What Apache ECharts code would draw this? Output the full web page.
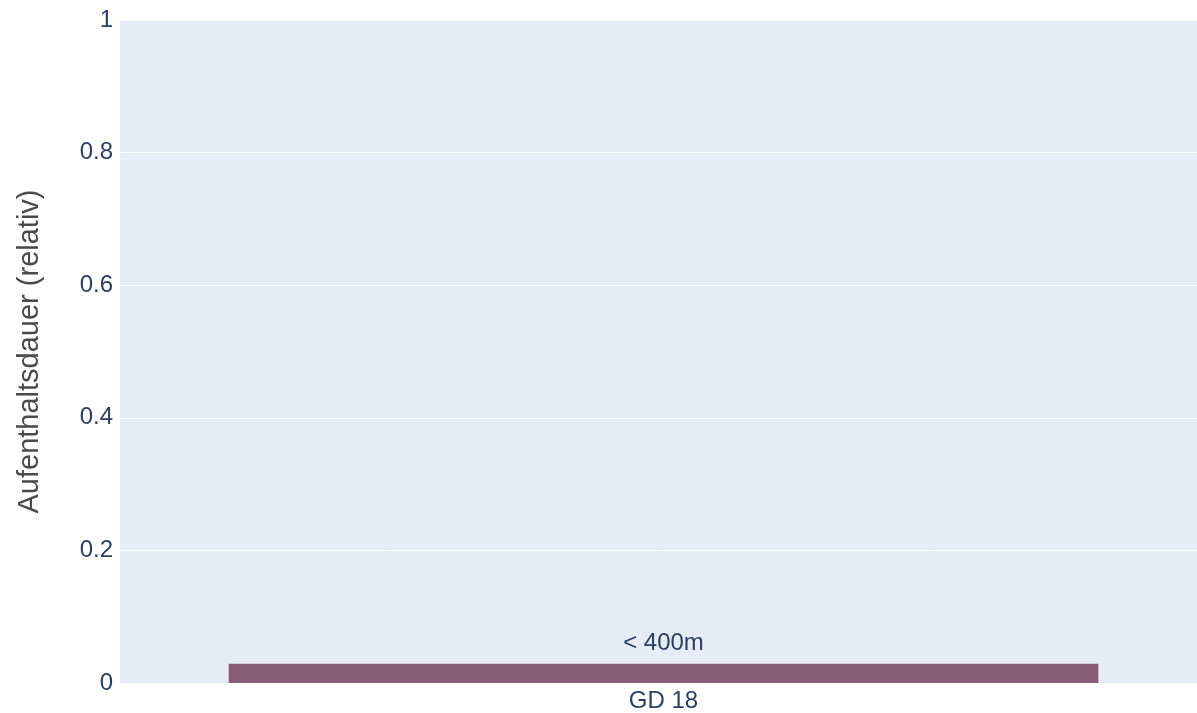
<!DOCTYPE html>
<html>
<head>
<meta charset="utf-8">
<script src="https://cdn.jsdelivr.net/npm/echarts@6/dist/echarts.min.js"></script>
<style>
html,body{margin:0;padding:0;background:#fff;overflow:hidden;width:1197px;height:713px;}
#chart{width:1207px;height:713px;}
</style>
</head>
<body>
<div id="chart"></div>
<script>
const categories = ['GD 18'];
const barLabels = ['< 400m'];
const values = [0.029];
const yTicks = [0, 0.2, 0.4, 0.6, 0.8, 1];

const chart = echarts.init(document.getElementById('chart'));
chart.setOption({
  backgroundColor: '#ffffff',
  animation: false,
  textStyle: { fontFamily: 'Liberation Sans, Arial, sans-serif' },
  grid: { left: 120, right: 0, top: 20, bottom: 30, backgroundColor: '#E5ECF6', show: true, borderWidth: 0 },
  xAxis: {
    type: 'category',
    data: categories,
    axisLine: { show: false },
    axisTick: { show: false },
    axisLabel: { color: '#2a3f5f', fontSize: 24, margin: 6 }
  },
  yAxis: {
    type: 'value',
    min: yTicks[0],
    max: yTicks[yTicks.length - 1],
    interval: 0.2,
    name: 'Aufenthaltsdauer (relativ)',
    nameLocation: 'middle',
    nameGap: 76,
    nameTextStyle: { color: '#4a4a4a', fontSize: 29 },
    axisLine: { show: false },
    axisTick: { show: false },
    axisLabel: { color: '#2a3f5f', fontSize: 24, margin: 7 },
    splitLine: { lineStyle: { color: '#ffffff', width: 1 } }
  },
  series: [{
    type: 'bar',
    data: values,
    barCategoryGap: '20%',
    itemStyle: { color: '#875c77' },
    label: {
      show: true,
      position: 'top',
      distance: 8,
      color: '#2a3f5f',
      fontSize: 24,
      formatter: p => barLabels[p.dataIndex]
    }
  }]
});
</script>
</body>
</html>
